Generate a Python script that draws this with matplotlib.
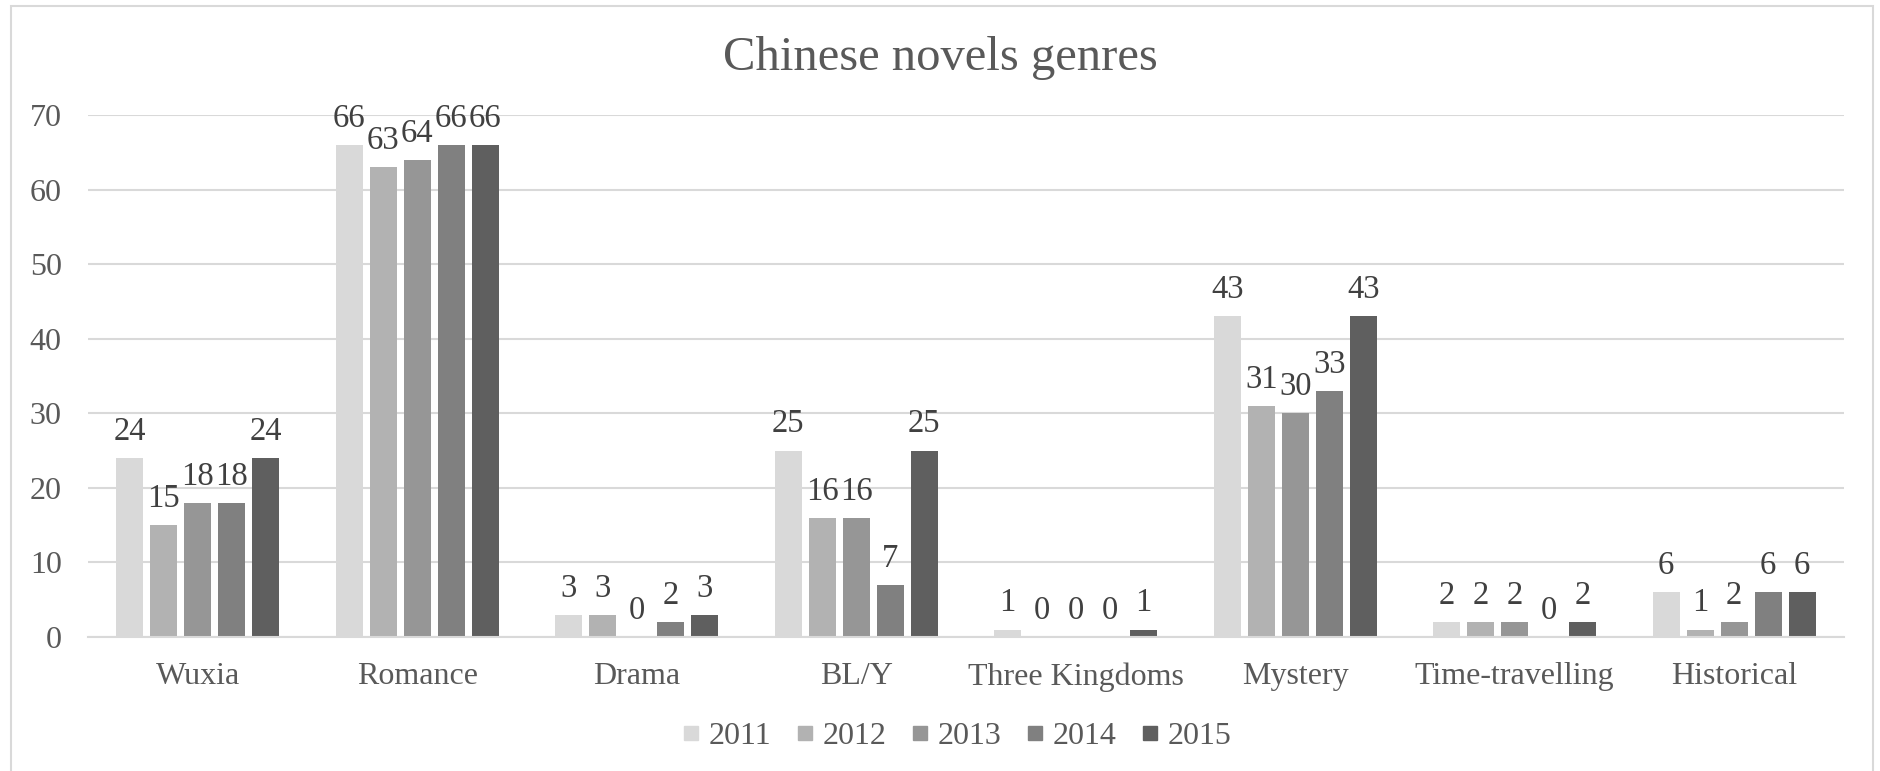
import numpy as np
import matplotlib.pyplot as plt
from matplotlib.lines import Line2D
from matplotlib.patches import Rectangle

genres = ["Wuxia", "Romance", "Drama", "BL/Y", "Three Kingdoms",
          "Mystery", "Time-travelling", "Historical"]
years = ["2011", "2012", "2013", "2014", "2015"]
v2011 = [24, 66, 3, 25, 1, 43, 2, 6]
v2012 = [15, 63, 3, 16, 0, 31, 2, 1]
v2013 = [18, 64, 0, 16, 0, 30, 2, 2]
v2014 = [18, 66, 2, 7, 0, 33, 0, 6]
v2015 = [24, 66, 3, 25, 1, 43, 2, 6]
series = [v2011, v2012, v2013, v2014, v2015]
colors = ["#d9d9d9", "#b2b2b2", "#969696", "#808080", "#5f5f5f"]

plt.rcParams['font.family'] = ['Liberation Serif', 'DejaVu Serif']
txt = "#595959"

fig = plt.figure(figsize=(18.81, 7.71), dpi=100)
ax = fig.add_axes([0.0468, 0.1738, 0.9335, 0.677])

x = np.arange(len(genres))
w = 0.123
step = 0.155
for i, vals in enumerate(series):
    bars = ax.bar(x + (i - 2) * step, vals, w, color=colors[i], zorder=3)
    ax.bar_label(bars, padding=8, fontsize=23.5, color="#404040")

ax.set_xlim(-0.5, len(genres) - 0.5)
ax.set_ylim(0, 70)
ax.set_yticks(range(0, 71, 10))
ax.set_xticks(x)
ax.set_xticklabels(genres)
ax.tick_params(axis='both', length=0, labelsize=23, colors=txt)
ax.tick_params(axis='y', pad=19)
ax.tick_params(axis='x', pad=18)
ax.grid(axis='y', color="#d9d9d9", linewidth=1.5, zorder=0)
for s in ['left', 'right', 'top']:
    ax.spines[s].set_visible(False)
ax.spines['bottom'].set_color("#d9d9d9")
ax.spines['bottom'].set_linewidth(1.5)
ax.spines['bottom'].set_zorder(4)

fig.text(0.5, 1 - 58 / 771, "Chinese novels genres", ha='center', va='center',
         fontsize=35, color=txt)

handles = [Line2D([], [], marker='s', linestyle='none', markersize=10,
                  markerfacecolor=c, markeredgecolor=c) for c in colors]
fig.legend(handles, years, loc='center', bbox_to_anchor=(0.509, 1 - 736 / 771),
           ncol=5, frameon=False, fontsize=23, labelcolor=txt,
           handlelength=0.5, handletextpad=0.3, columnspacing=0.8)

# light outline around the whole chart area
fig.patches.append(Rectangle((11 / 1881, -0.02), 1862 / 1881, 1.02 - 6 / 771,
                             transform=fig.transFigure, fill=False,
                             edgecolor="#d9d9d9", linewidth=1.5))

fig.savefig("out.png", dpi=100)
